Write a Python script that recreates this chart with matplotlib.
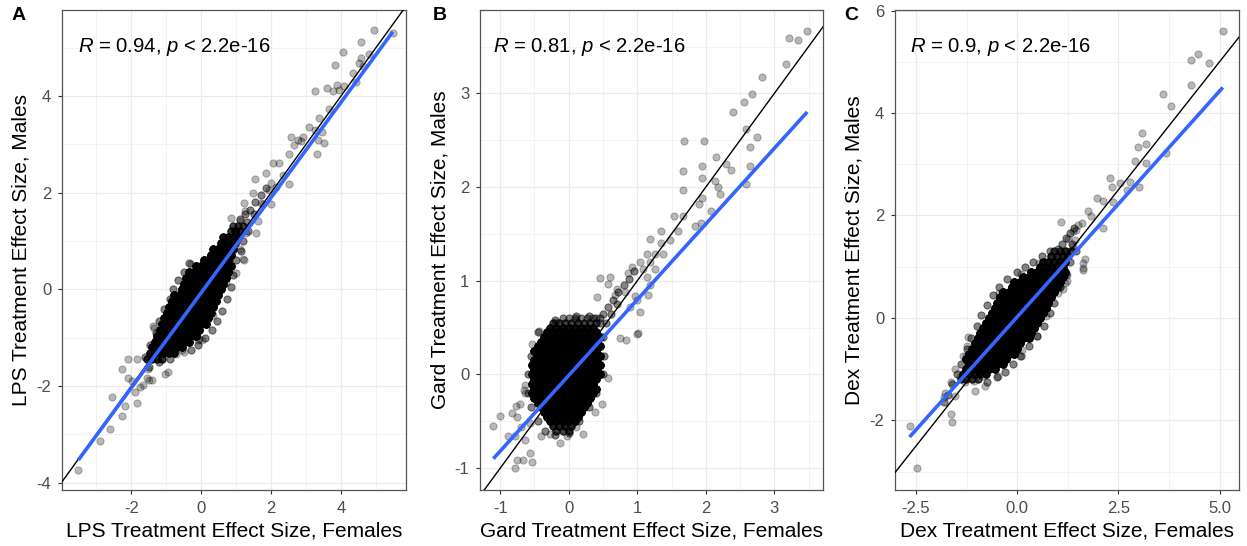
import numpy as np
import matplotlib
matplotlib.use("Agg")
import matplotlib.pyplot as plt
import matplotlib.transforms as mtransforms

plt.rcParams['font.family'] = ['Liberation Sans', 'DejaVu Sans']
plt.rcParams['mathtext.fontset'] = 'custom'
plt.rcParams['mathtext.rm'] = 'Liberation Sans'
plt.rcParams['mathtext.it'] = 'Liberation Sans:italic'

# ======================= Panel A : LPS =======================
# dense core: rows of overlapping genes (y level, x positions, overlap count)
A_core_y = [1.32, 1.2, 1.08, 0.96, 0.84, 0.72, 0.6, 0.48, 0.36, 0.24, 0.12, 0.0,
            -0.12, -0.24, -0.36, -0.48, -0.6, -0.72, -0.84, -0.96, -1.08, -1.2, -1.32, -1.44]
A_core_x = [
    [0.91, 1.05, 1.19],
    [0.84, 0.98, 1.12],
    [0.63, 0.77, 0.91, 1.05],
    [0.56, 0.70, 0.84, 0.98],
    [0.35, 0.49, 0.63, 0.77, 0.91],
    [0.28, 0.42, 0.56, 0.70, 0.84],
    [0.07, 0.21, 0.35, 0.49, 0.63, 0.77],
    [-0.14, 0.0, 0.14, 0.28, 0.42, 0.56, 0.70, 0.84],
    [-0.35, -0.21, -0.07, 0.07, 0.21, 0.35, 0.49, 0.63, 0.77],
    [-0.42, -0.28, -0.14, 0.0, 0.14, 0.28, 0.42, 0.56, 0.70],
    [-0.49, -0.35, -0.21, -0.07, 0.07, 0.21, 0.35, 0.49, 0.63],
    [-0.56, -0.42, -0.28, -0.14, 0.0, 0.14, 0.28, 0.42, 0.56],
    [-0.77, -0.63, -0.49, -0.35, -0.21, -0.07, 0.07, 0.21, 0.35, 0.49],
    [-0.84, -0.70, -0.56, -0.42, -0.28, -0.14, 0.0, 0.14, 0.28, 0.42],
    [-0.91, -0.77, -0.63, -0.49, -0.35, -0.21, -0.07, 0.07, 0.21, 0.35],
    [-0.98, -0.84, -0.70, -0.56, -0.42, -0.28, -0.14, 0.0, 0.14, 0.28],
    [-1.05, -0.91, -0.77, -0.63, -0.49, -0.35, -0.21, -0.07, 0.07, 0.21],
    [-1.12, -0.98, -0.84, -0.70, -0.56, -0.42, -0.28, -0.14, 0.0, 0.14],
    [-1.19, -1.05, -0.91, -0.77, -0.63, -0.49, -0.35, -0.21, -0.07],
    [-1.26, -1.12, -0.98, -0.84, -0.70, -0.56, -0.42, -0.28, -0.14],
    [-1.33, -1.19, -1.05, -0.91, -0.77, -0.63, -0.49, -0.35],
    [-1.40, -1.26, -1.12, -0.98, -0.84, -0.70, -0.56],
    [-1.47, -1.33, -1.19, -1.05, -0.91, -0.77],
    [-1.54, -1.40, -1.26, -1.12],
]
A_core_n = [4, 5, 8, 10, 12, 14, 14, 14, 14, 14, 14, 14, 14, 14, 14, 14, 14, 14, 14, 14, 14,
            12, 8, 5]
# semi-dense fringe (each drawn twice)
A_band_x = [1.1, 1.25, 1.4, 1.55, 1.7, 1.85, 1.3, 1.5, 1.0, 1.35, 1.2, 1.15, 1.0, 0.9, 0.85,
            0.75, 0.6, 0.45, 0.3, 0.1, -0.1, -0.3, -0.35, -0.5, -0.65, -0.8, -0.9, -1.05,
            -1.2, -1.3, -1.45, -1.6, -1.5, -1.2, -0.9]
A_band_y = [1.45, 1.55, 1.65, 1.8, 1.95, 2.1, 1.4, 1.55, 1.2, 1.2, 1.0, 0.8, 0.6, 0.3, 0.05,
            -0.2, -0.45, -0.65, -0.85, -1.0, -1.15, -1.25, 0.55, 0.35, 0.2, 0.0, -0.2, -0.4,
            -0.65, -0.9, -1.15, -1.4, -1.6, -1.5, -1.45]
# individual genes
A_out_x = [5.48, 4.94, 4.57, 4.07, 3.84, 4.81, 4.57, 4.52, 4.33, 4.64, 3.27, 3.60, 3.76, 3.90,
           3.95, 4.09, 4.43, 3.67, 3.38, 3.09, 3.27, 3.47, 3.33, 2.57, 2.76, 2.90, 2.67, 2.86,
           3.52, 3.30, 2.52, 2.05, 2.24, 1.86, 1.55, 2.00, 2.33, 2.52, 2.14, 1.48, 1.95,
           1.71, 2.00, 1.24, 0.86, 1.10, 1.57, 1.62, 1.29, 1.26, 1.78, 1.19, 1.00, 1.10,
           -0.29, -1.38, -1.33, -0.05, 0.14, 0.71, 0.35, 0.02, -0.08, -0.55, -0.79, -1.36,
           -1.03, -1.55, -2.08, -1.84, -2.27, -2.08, -1.98, -1.65, -1.41, -1.89, -1.84,
           -2.55, -2.17, -2.27, -2.60, -2.89, -3.51, 1.24, -0.48, -0.71, -1.52, -1.48,
           -1.76, -0.95]
A_out_y = [5.30, 5.36, 5.12, 4.92, 4.64, 4.88, 4.78, 4.68, 4.47, 4.62, 4.11, 4.16, 4.11, 4.23,
           4.12, 4.21, 4.30, 3.74, 3.54, 3.35, 3.30, 3.26, 3.09, 3.16, 3.09, 3.16, 2.99, 3.06,
           3.03, 2.80, 2.81, 2.62, 2.61, 2.40, 2.28, 2.21, 2.37, 2.19, 2.12, 1.99, 2.06,
           1.79, 1.76, 1.79, 1.48, 1.41, 1.17, 1.41, 1.17, 1.63, 1.77, 0.62, 0.34, 0.83,
           0.52, -0.76, -1.07, -1.03, -0.69, 0.14, -0.53, -1.04, -1.04, -1.25, -1.25, -0.79,
           -1.76, -1.83, -1.43, -1.43, -1.65, -1.83, -1.90, -1.97, -1.87, -2.12, -2.34,
           -2.23, -2.41, -2.62, -2.88, -3.13, -3.74, 0.61, -1.29, -1.33, -1.64, -1.88,
           -2.01, -1.70]
A_fit = (0.985, -0.07)       # slope, intercept of lm fit
A_R = "0.94"

# ======================= Panel B : Gard =======================
B_core_y = [0.6, 0.55, 0.5, 0.45, 0.4, 0.35, 0.3, 0.25, 0.2, 0.15, 0.1, 0.05, 0.0,
            -0.05, -0.1, -0.15, -0.2, -0.25, -0.3, -0.35, -0.4, -0.45, -0.5, -0.55, -0.6]
B_core_x = [
    [-0.09, 0.0, 0.09, 0.18, 0.27, 0.36, 0.45],
    [-0.23, -0.14, -0.05, 0.04, 0.13, 0.22, 0.31, 0.40],
    [-0.27, -0.18, -0.09, 0.0, 0.09, 0.18, 0.27, 0.36],
    [-0.32, -0.23, -0.14, -0.05, 0.04, 0.13, 0.22, 0.31, 0.40],
    [-0.36, -0.27, -0.18, -0.09, 0.0, 0.09, 0.18, 0.27, 0.36, 0.45],
    [-0.41, -0.32, -0.23, -0.14, -0.05, 0.04, 0.13, 0.22, 0.31, 0.40],
    [-0.45, -0.36, -0.27, -0.18, -0.09, 0.0, 0.09, 0.18, 0.27, 0.36, 0.45],
    [-0.50, -0.41, -0.32, -0.23, -0.14, -0.05, 0.04, 0.13, 0.22, 0.31, 0.40],
    [-0.45, -0.36, -0.27, -0.18, -0.09, 0.0, 0.09, 0.18, 0.27, 0.36, 0.45],
    [-0.50, -0.41, -0.32, -0.23, -0.14, -0.05, 0.04, 0.13, 0.22, 0.31, 0.40],
    [-0.54, -0.45, -0.36, -0.27, -0.18, -0.09, 0.0, 0.09, 0.18, 0.27, 0.36, 0.45],
    [-0.50, -0.41, -0.32, -0.23, -0.14, -0.05, 0.04, 0.13, 0.22, 0.31, 0.40],
    [-0.54, -0.45, -0.36, -0.27, -0.18, -0.09, 0.0, 0.09, 0.18, 0.27, 0.36, 0.45],
    [-0.50, -0.41, -0.32, -0.23, -0.14, -0.05, 0.04, 0.13, 0.22, 0.31, 0.40],
    [-0.54, -0.45, -0.36, -0.27, -0.18, -0.09, 0.0, 0.09, 0.18, 0.27, 0.36],
    [-0.50, -0.41, -0.32, -0.23, -0.14, -0.05, 0.04, 0.13, 0.22, 0.31, 0.40],
    [-0.54, -0.45, -0.36, -0.27, -0.18, -0.09, 0.0, 0.09, 0.18, 0.27, 0.36],
    [-0.50, -0.41, -0.32, -0.23, -0.14, -0.05, 0.04, 0.13, 0.22, 0.31],
    [-0.45, -0.36, -0.27, -0.18, -0.09, 0.0, 0.09, 0.18, 0.27],
    [-0.41, -0.32, -0.23, -0.14, -0.05, 0.04, 0.13, 0.22],
    [-0.36, -0.27, -0.18, -0.09, 0.0, 0.09, 0.18],
    [-0.32, -0.23, -0.14, -0.05, 0.04, 0.13],
    [-0.27, -0.18, -0.09, 0.0, 0.09],
    [-0.23, -0.14, -0.05, 0.04],
    [-0.18, -0.09, 0.0],
]
B_core_n = [2, 4, 8, 12, 14, 14, 14, 14, 14, 14, 14, 14, 14, 14, 14, 14, 14, 14, 14, 14, 14,
            12, 10, 6, 4]
B_band_x = [0.45, 0.5, 0.58, 0.65, 0.72, 0.8, 0.88, 0.95, 0.55, 0.62, 0.7, 0.4, 0.3, -0.55,
            -0.6, -0.6, -0.55, -0.45, -0.35, -0.2, 0.0, 0.15, 0.3, 0.4, 0.5, 0.52, 0.5,
            -0.45, -0.2, 0.1]
B_band_y = [0.55, 0.65, 0.72, 0.8, 0.88, 0.95, 1.02, 1.1, 0.55, 0.65, 0.75, 0.6, 0.62, 0.2,
            0.0, -0.2, -0.35, -0.5, -0.6, -0.65, -0.62, -0.5, -0.35, -0.2, 0.0, 0.2, 0.4,
            0.45, 0.58, 0.62]
B_out_x = [3.48, 3.22, 3.35, 3.17, 2.82, 2.67, 2.55, 2.40, 2.58, 2.75, 2.64, 2.64, 2.59,
           1.68, 1.97, 2.15, 1.94, 1.67, 1.95, 2.30, 2.37, 2.18, 2.20, 1.66, 2.13, 1.94,
           1.90, 2.08, 1.84, 1.93, 1.53, 1.66, 1.35, 1.60, 1.19, 1.48, 1.35, 1.38, 1.26,
           1.04, 1.18, 0.92, 1.09, 1.26, 0.87, 0.60, 1.14, 1.14,
           0.45, 0.41, 0.71, 0.82, 0.99, 1.04, 1.01, 0.84, 0.75, 0.89, 1.18, 1.16, 0.96,
           -1.10, -1.01, -0.77, -0.76, -0.88, -0.78, -0.64, -0.69, -0.57, -0.78, -0.76,
           -0.67, -0.54, -0.56, -0.40, -0.27, -0.13, -0.03, 0.11, 0.21, 0.38, 0.48, 0.58,
           -0.44, -0.54, -0.18, 0.11, 0.58, 0.68, -0.83, -0.66, -0.71, -0.64, -0.64, 1.00]
B_out_y = [3.67, 3.59, 3.57, 3.31, 3.18, 2.99, 2.91, 2.80, 2.62, 2.53, 2.43, 2.22, 2.03,
           2.49, 2.49, 2.32, 2.22, 2.17, 2.10, 2.25, 2.18, 2.00, 1.93, 1.97, 2.06, 1.88,
           1.82, 1.74, 1.58, 1.62, 1.69, 1.69, 1.53, 1.53, 1.45, 1.43, 1.40, 1.29, 1.29,
           1.20, 1.20, 1.15, 1.13, 1.13, 1.08, 1.04, 1.04, 1.29,
           1.03, 0.83, 0.91, 0.88, 0.80, 0.67, 0.44, 0.37, 0.39, 0.72, 0.95, 0.85, 0.84,
           -0.55, -0.44, -0.34, -0.45, -0.66, -0.66, -0.70, -0.56, -0.52, -1.00, -0.91,
           -0.91, -0.93, -0.84, -0.66, -0.64, -0.73, -0.66, -0.56, -0.63, -0.40, -0.31, -0.04,
           0.46, 0.33, 0.56, 0.58, 0.97, 0.85, -0.41, -0.17, -0.31, -0.11, -0.20, 0.43]
B_fit = (0.808, -0.01)
B_R = "0.81"

# ======================= Panel C : Dex =======================
C_core_y = [1.3, 1.2, 1.1, 1.0, 0.9, 0.8, 0.7, 0.6, 0.5, 0.4, 0.3, 0.2, 0.1, 0.0,
            -0.1, -0.2, -0.3, -0.4, -0.5, -0.6, -0.7, -0.8, -0.9, -1.0, -1.1, -1.2]
C_core_x = [
    [0.91, 1.05, 1.19, 1.33],
    [0.84, 0.98, 1.12, 1.26],
    [0.63, 0.77, 0.91, 1.05, 1.19],
    [0.56, 0.70, 0.84, 0.98, 1.12],
    [0.35, 0.49, 0.63, 0.77, 0.91, 1.05, 1.19],
    [0.14, 0.28, 0.42, 0.56, 0.70, 0.84, 0.98, 1.12],
    [-0.07, 0.07, 0.21, 0.35, 0.49, 0.63, 0.77, 0.91, 1.05],
    [-0.14, 0.0, 0.14, 0.28, 0.42, 0.56, 0.70, 0.84, 0.98],
    [-0.35, -0.21, -0.07, 0.07, 0.21, 0.35, 0.49, 0.63, 0.77, 0.91],
    [-0.42, -0.28, -0.14, 0.0, 0.14, 0.28, 0.42, 0.56, 0.70, 0.84],
    [-0.49, -0.35, -0.21, -0.07, 0.07, 0.21, 0.35, 0.49, 0.63, 0.77],
    [-0.56, -0.42, -0.28, -0.14, 0.0, 0.14, 0.28, 0.42, 0.56, 0.70],
    [-0.63, -0.49, -0.35, -0.21, -0.07, 0.07, 0.21, 0.35, 0.49, 0.63],
    [-0.70, -0.56, -0.42, -0.28, -0.14, 0.0, 0.14, 0.28, 0.42, 0.56],
    [-0.77, -0.63, -0.49, -0.35, -0.21, -0.07, 0.07, 0.21, 0.35, 0.49],
    [-0.84, -0.70, -0.56, -0.42, -0.28, -0.14, 0.0, 0.14, 0.28, 0.42],
    [-0.91, -0.77, -0.63, -0.49, -0.35, -0.21, -0.07, 0.07, 0.21, 0.35],
    [-0.98, -0.84, -0.70, -0.56, -0.42, -0.28, -0.14, 0.0, 0.14, 0.28],
    [-1.05, -0.91, -0.77, -0.63, -0.49, -0.35, -0.21, -0.07, 0.07],
    [-1.12, -0.98, -0.84, -0.70, -0.56, -0.42, -0.28, -0.14, 0.0],
    [-1.19, -1.05, -0.91, -0.77, -0.63, -0.49, -0.35, -0.21, -0.07],
    [-1.26, -1.12, -0.98, -0.84, -0.70, -0.56, -0.42, -0.28],
    [-1.19, -1.05, -0.91, -0.77, -0.63, -0.49, -0.35],
    [-1.26, -1.12, -0.98, -0.84, -0.70, -0.56],
    [-1.33, -1.19, -1.05, -0.91, -0.77],
    [-1.40, -1.26, -1.12, -0.98],
]
C_core_n = [4, 6, 8, 10, 12, 14, 14, 14, 14, 14, 14, 14, 14, 14, 14, 14, 14, 14, 14, 14, 14,
            14, 12, 10, 8, 4]
C_band_x = [1.0, 1.1, 1.2, 1.3, 1.4, 1.2, 1.35, 1.45, 1.3, 1.2, 1.05, 0.9, 0.8, 0.65, 0.5,
            0.3, 0.1, -0.1, -0.3, -0.5, -0.75, -1.6, -1.5, -1.4, -1.25, -1.15, -1.0, -0.9,
            -0.75, -0.6, -0.45, -0.25, 0.0, 0.2, 0.4, 0.6, 0.8, -1.7, -1.8]
C_band_y = [1.35, 1.45, 1.55, 1.65, 1.75, 1.3, 1.45, 1.3, 1.1, 0.85, 0.6, 0.3, 0.1, -0.15,
            -0.35, -0.55, -0.75, -0.9, -1.05, -1.15, -1.25, -1.3, -1.1, -0.9, -0.6, -0.4,
            -0.15, 0.05, 0.25, 0.45, 0.6, 0.75, 0.9, 1.0, 1.1, 1.2, 1.3, -1.5, -1.65]
C_out_x = [5.08, 4.47, 4.30, 4.74, 4.30, 3.59, 3.81, 3.08, 2.99, 3.19, 2.90, 3.17, 3.68,
           2.30, 2.34, 2.53, 2.78, 2.71, 3.01, 1.96, 2.12, 2.37, 1.75, 1.83, 1.09, 1.59,
           1.38, 2.12, 1.63, 1.63, 1.51, 1.26,
           -2.66, -2.48, -1.64, -1.62, -1.82, -1.54, -1.41, -1.22, -1.30, -1.04, -0.80,
           -0.47, -0.26, 0.11, 1.05, 1.13, 1.22, 1.67, 1.46, 1.42, -1.63, -1.26, -0.45,
           -0.85, -0.31, 0.06, 0.10, 0.55, 1.17, 1.62, 1.37, 1.01, 1.22, -1.25, -1.33,
           -1.08, 0.48, 0.72, -1.54, -1.78, -0.18]
C_out_y = [5.60, 5.15, 5.04, 4.97, 4.54, 4.37, 4.13, 3.60, 3.33, 3.39, 3.06, 3.02, 3.21,
           2.73, 2.56, 2.63, 2.66, 2.50, 2.55, 2.34, 2.29, 2.27, 2.08, 1.98, 1.88, 1.85,
           1.69, 1.75, 1.07, 0.98, 1.82, 1.53,
           -2.11, -2.94, -1.87, -2.04, -1.54, -0.99, -1.16, -0.38, -1.26, -1.43, -1.33,
           -1.14, -0.72, -0.62, 0.60, 0.57, 0.84, 1.15, 1.72, 1.52, -1.26, -0.74, 0.49,
           -1.13, -0.74, -0.74, 0.85, 1.07, 0.68, 0.94, 1.40, 0.49, 0.72, -0.55, -0.74,
           -1.23, -0.35, 0.04, -1.52, -1.46, -0.65]
C_fit = (0.8815, 0.02)
C_R = "0.9"

BAND_N = 2

# ======================= drawing =======================
W, H = 1247, 546
fig = plt.figure(figsize=(W / 100, H / 100), dpi=100)


def expand(core_y, core_x, core_n, band_x, band_y, out_x, out_y):
    xs, ys = [], []
    for y, row, n in zip(core_y, core_x, core_n):
        for x in row:
            xs += [x] * n
            ys += [y] * n
    for x, y in zip(band_x, band_y):
        xs += [x] * BAND_N
        ys += [y] * BAND_N
    xs += list(out_x)
    ys += list(out_y)
    return np.array(xs), np.array(ys)


panels = [
    dict(rect=(62, 406), core=(A_core_y, A_core_x, A_core_n, A_band_x, A_band_y, A_out_x, A_out_y),
         fit=A_fit, R=A_R, xlim=(-3.98, 5.86), ylim=(-4.15, 5.78),
         xt=[-2, 0, 2, 4], xtl=['-2', '0', '2', '4'], xm=[-3, -1, 1, 3, 5],
         yt=[-4, -2, 0, 2, 4], ytl=['-4', '-2', '0', '2', '4'], ym=[-3, -1, 1, 3, 5],
         name='LPS', letter='A', lx=19),
    dict(rect=(480, 823), core=(B_core_y, B_core_x, B_core_n, B_band_x, B_band_y, B_out_x, B_out_y),
         fit=B_fit, R=B_R, xlim=(-1.295, 3.71), ylim=(-1.233, 3.89),
         xt=[-1, 0, 1, 2, 3], xtl=['-1', '0', '1', '2', '3'], xm=[-0.5, 0.5, 1.5, 2.5, 3.5],
         yt=[-1, 0, 1, 2, 3], ytl=['-1', '0', '1', '2', '3'], ym=[-0.5, 0.5, 1.5, 2.5, 3.5],
         name='Gard', letter='B', lx=440),
    dict(rect=(895, 1239), core=(C_core_y, C_core_x, C_core_n, C_band_x, C_band_y, C_out_x, C_out_y),
         fit=C_fit, R=C_R, xlim=(-3.02, 5.48), ylim=(-3.36, 6.01),
         xt=[-2.5, 0, 2.5, 5.0], xtl=['-2.5', '0.0', '2.5', '5.0'], xm=[-1.25, 1.25, 3.75],
         yt=[-2, 0, 2, 4, 6], ytl=['-2', '0', '2', '4', '6'], ym=[-3, -1, 1, 3, 5],
         name='Dex', letter='C', lx=851),
]

top_px, bot_px = 10, 490
for p in panels:
    l, r = p['rect']
    ax = fig.add_axes([l / W, 1 - bot_px / H, (r - l) / W, (bot_px - top_px) / H])
    x, y = expand(*p['core'])
    ax.scatter(x, y, s=27, c='black', alpha=0.28, edgecolors='black', linewidths=0.7,
               zorder=2)
    ax.axline((0, 0), slope=1, color='black', lw=1.0, zorder=3)
    slope, icpt = p['fit']
    fx = np.array([x.min(), x.max()])
    ax.plot(fx, slope * fx + icpt, color='#3366FF', lw=2.6, zorder=4,
            solid_capstyle='butt')
    ax.set_xlim(*p['xlim'])
    ax.set_ylim(*p['ylim'])
    ax.set_xticks(p['xt'])
    ax.set_xticklabels(p['xtl'])
    ax.set_yticks(p['yt'])
    ax.set_yticklabels(p['ytl'])
    ax.set_xticks(p['xm'], minor=True)
    ax.set_yticks(p['ym'], minor=True)
    ax.tick_params(which='major', direction='out', length=3.2, width=0.8,
                   color='#333333', labelcolor='#4D4D4D', labelsize=12, pad=4.5)
    ax.tick_params(which='minor', length=0)
    ax.grid(which='major', color='#EBEBEB', lw=0.9)
    ax.grid(which='minor', color='#F0F0F0', lw=0.55)
    ax.set_axisbelow(True)
    for s in ax.spines.values():
        s.set_color('#555555')
        s.set_linewidth(0.9)
    ax.set_xlabel(f"{p['name']} Treatment Effect Size, Females", fontsize=15,
                  color='black', labelpad=4)
    ax.set_ylabel(f"{p['name']} Treatment Effect Size, Males", fontsize=15,
                  color='black', labelpad=4)
    trans = mtransforms.blended_transform_factory(ax.transData, ax.transAxes)
    ax.text(x.min(), 0.923, r"$\mathit{R}$ = " + p['R'] + r", $\mathit{p}$ < 2.2e-16",
            transform=trans, fontsize=14.6, ha='left', va='center', color='black')
    fig.text(p['lx'] / W, 1 - 16 / H, p['letter'], fontsize=14, fontweight='bold',
             ha='center', va='center')

fig.savefig('out.png', dpi=100)
